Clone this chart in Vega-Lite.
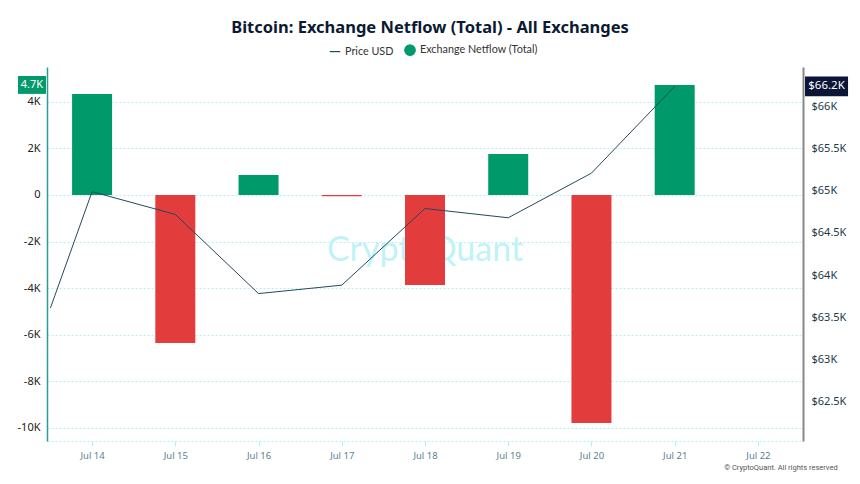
{
  "$schema": "https://vega.github.io/schema/vega-lite/v6.json",
  "width": 756,
  "height": 374,
  "autosize": "none",
  "padding": {"left": 47, "top": 67, "right": 57, "bottom": 43},
  "background": "white",
  "title": {
    "text": "Bitcoin: Exchange Netflow (Total) - All Exchanges",
    "fontSize": 16.5,
    "font": "Noto Sans",
    "fontWeight": "bold",
    "color": "#0b1a33",
    "anchor": "middle",
    "offset": 8,
    "dx": 5
  },
  "config": {
    "view": {"stroke": null},
    "font": "Noto Sans"
  },
  "datasets": {
    "flows": [
      {"date": "2024-07-14T00:00:00", "netflow": 4330},
      {"date": "2024-07-15T00:00:00", "netflow": -6350},
      {"date": "2024-07-16T00:00:00", "netflow": 860},
      {"date": "2024-07-17T00:00:00", "netflow": -60},
      {"date": "2024-07-18T00:00:00", "netflow": -3860},
      {"date": "2024-07-19T00:00:00", "netflow": 1760},
      {"date": "2024-07-20T00:00:00", "netflow": -9790},
      {"date": "2024-07-21T00:00:00", "netflow": 4720}
    ],
    "prices": [
      {"date": "2024-07-13T12:00:00", "price": 63610},
      {"date": "2024-07-14T00:00:00", "price": 64990},
      {"date": "2024-07-15T00:00:00", "price": 64720},
      {"date": "2024-07-16T00:00:00", "price": 63780},
      {"date": "2024-07-17T00:00:00", "price": 63880},
      {"date": "2024-07-18T00:00:00", "price": 64790},
      {"date": "2024-07-19T00:00:00", "price": 64680},
      {"date": "2024-07-20T00:00:00", "price": 65210},
      {"date": "2024-07-21T00:00:00", "price": 66240}
    ]
  },
  "layer": [
    {
      "data": {"name": "flows"},
      "layer": [
        {
          "data": {"values": [{}]},
          "mark": {"type": "text", "text": "CryptoQuant", "fontSize": 34, "font": "Lato", "color": "#bff3f8", "align": "center", "baseline": "middle"},
          "encoding": {
            "x": {"datum": {"year": 2024, "month": 7, "date": 18}, "type": "temporal"},
            "y": {"datum": -2400, "type": "quantitative"}
          }
        },
        {
          "mark": {"type": "bar", "size": 40},
          "encoding": {
            "x": {
              "field": "date",
              "type": "temporal",
              "scale": {"domain": [{"year": 2024, "month": 7, "date": 13, "hours": 11}, {"year": 2024, "month": 7, "date": 22, "hours": 13}], "padding": 0},
              "axis": {
                "values": [
                  {"year": 2024, "month": 7, "date": 14},
                  {"year": 2024, "month": 7, "date": 15},
                  {"year": 2024, "month": 7, "date": 16},
                  {"year": 2024, "month": 7, "date": 17},
                  {"year": 2024, "month": 7, "date": 18},
                  {"year": 2024, "month": 7, "date": 19},
                  {"year": 2024, "month": 7, "date": 20},
                  {"year": 2024, "month": 7, "date": 21},
                  {"year": 2024, "month": 7, "date": 22}
                ],
                "format": "%b %d",
                "title": null,
                "grid": false,
                "labelColor": "#5b7f8f",
                "labelFontSize": 9.5,
                "labelPadding": 4,
                "domainColor": "#b3eef5",
                "domainDash": [2, 2],
                "tickColor": "#b3eef5",
                "tickSize": 5
              }
            },
            "y": {
              "field": "netflow",
              "type": "quantitative",
              "scale": {"domain": [-10560, 5490], "nice": false, "zero": false},
              "axis": {
                "orient": "left",
                "values": [-10000, -8000, -6000, -4000, -2000, 0, 2000, 4000],
                "labelExpr": "datum.value == 0 ? '0' : (datum.value < 0 ? '-' : '') + abs(datum.value) / 1000 + 'K'",
                "title": null,
                "grid": true,
                "gridColor": "#b5f0f5",
                "gridDash": [2, 2],
                "domainColor": "#2a9d9a",
                "domainWidth": 1.5,
                "ticks": false,
                "labelPadding": 7,
                "labelColor": "#222222",
                "labelFontSize": 11
              }
            },
            "color": {
              "condition": {"test": "datum.netflow >= 0", "value": "#00996a"},
              "value": "#e23c3c"
            }
          }
        },
        {
          "transform": [
            {"filter": {"field": "date", "equal": {"year": 2024, "month": 7, "date": 21}}},
            {"calculate": "format(datum.netflow / 1000, '.1f') + 'K'", "as": "lbl"}
          ],
          "layer": [
            {
              "mark": {"type": "point", "shape": "M-1,-0.64H1V0.64H-1Z", "filled": true, "color": "#03996a", "opacity": 1, "size": 784},
              "encoding": {
                "x": {"datum": {"year": 2024, "month": 7, "date": 13, "hours": 6, "minutes": 40}, "type": "temporal"},
                "y": {"field": "netflow", "type": "quantitative"}
              }
            },
            {
              "mark": {"type": "text", "color": "white", "fontSize": 11, "align": "center", "baseline": "middle"},
              "encoding": {
                "x": {"datum": {"year": 2024, "month": 7, "date": 13, "hours": 6, "minutes": 40}, "type": "temporal"},
                "y": {"field": "netflow", "type": "quantitative"},
                "text": {"field": "lbl"}
              }
            }
          ]
        },
        {
          "data": {"values": [{}]},
          "mark": {"type": "text", "text": "© CryptoQuant. All rights reserved", "fontSize": 7.5, "font": "Liberation Sans Narrow, Roboto", "color": "#555555", "align": "right", "baseline": "middle"},
          "encoding": {
            "x": {"datum": {"year": 2024, "month": 7, "date": 22, "hours": 23}, "type": "temporal"},
            "y": {"datum": -11720, "type": "quantitative"}
          }
        }
      ]
    },
    {
      "data": {"name": "prices"},
      "layer": [
        {
          "mark": {"type": "line", "strokeWidth": 1},
          "encoding": {
            "x": {"field": "date", "type": "temporal"},
            "y": {
              "field": "price",
              "type": "quantitative",
              "scale": {"domain": [62030, 66470], "nice": false, "zero": false},
              "axis": {
                "orient": "right",
                "values": [62500, 63000, 63500, 64000, 64500, 65000, 65500, 66000],
                "labelExpr": "'$' + datum.value / 1000 + 'K'",
                "title": null,
                "grid": false,
                "domainColor": "#888888",
                "domainWidth": 2,
                "ticks": false,
                "labelPadding": 8,
                "labelColor": "#1b3a4b",
                "labelFontSize": 11
              }
            },
            "stroke": {
              "datum": "Price USD",
              "scale": {"domain": ["Price USD", "Exchange Netflow (Total)"], "range": ["#24495a", "#00996a"]},
              "legend": {
                "orient": "none",
                "legendX": 282,
                "legendY": -23,
                "direction": "horizontal",
                "title": null,
                "labelFont": "Lato",
                "labelFontSize": 10.8,
                "labelColor": "#333333",
                "symbolSize": 110,
                "symbolStrokeWidth": 1.2,
                "columnPadding": 8,
                "labelOffset": 4,
                "encode": {
                  "symbols": {
                    "update": {
                      "shape": {"signal": "datum.value === 'Price USD' ? 'stroke' : 'circle'"},
                      "fill": {"signal": "datum.value === 'Price USD' ? 'transparent' : '#00996a'"},
                      "fillOpacity": {"value": 1}
                    }
                  }
                }
              }
            }
          }
        },
        {
          "transform": [
            {"filter": {"field": "date", "equal": {"year": 2024, "month": 7, "date": 21}}},
            {"calculate": "'$' + format(datum.price / 1000, '.1f') + 'K'", "as": "lbl"}
          ],
          "layer": [
            {
              "mark": {"type": "point", "shape": "M-1,-0.465H1V0.465H-1Z", "filled": true, "color": "#0b1535", "opacity": 1, "size": 1849},
              "encoding": {
                "x": {"datum": {"year": 2024, "month": 7, "date": 22, "hours": 19, "minutes": 47}, "type": "temporal"},
                "y": {"field": "price", "type": "quantitative"}
              }
            },
            {
              "mark": {"type": "text", "color": "white", "fontSize": 11.5, "align": "center", "baseline": "middle"},
              "encoding": {
                "x": {"datum": {"year": 2024, "month": 7, "date": 22, "hours": 19, "minutes": 47}, "type": "temporal"},
                "y": {"field": "price", "type": "quantitative"},
                "text": {"field": "lbl"}
              }
            }
          ]
        }
      ]
    }
  ],
  "resolve": {"scale": {"y": "independent"}}
}
